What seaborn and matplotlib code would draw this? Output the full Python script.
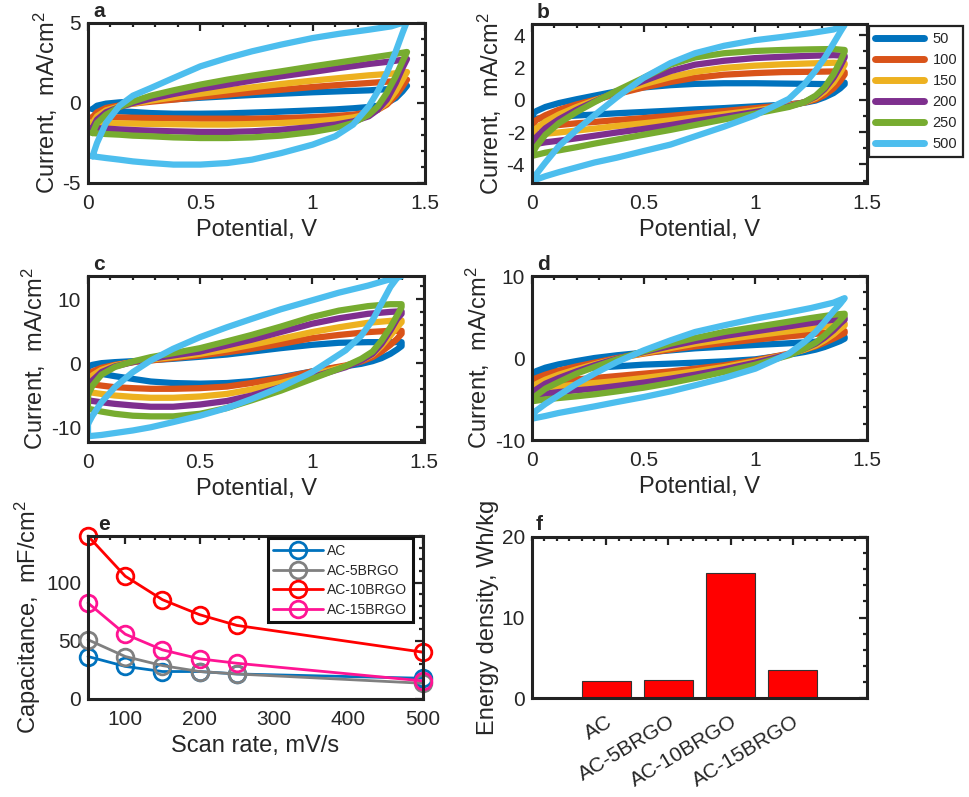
import matplotlib
matplotlib.use("Agg")
import matplotlib.pyplot as plt
import pandas as pd
import seaborn as sns
from matplotlib.lines import Line2D
from matplotlib.ticker import MultipleLocator, FuncFormatter

# scan rates (mV/s) and matlab colours
rates = [50, 100, 150, 200, 250, 500]
rate_colors = ["#0072BD", "#D95319", "#EDB120", "#7E2F8E", "#77AC30", "#4DBEEE"]

# panel a: forward / reverse sweep potentials (V) and currents (mA/cm2)
a_e_fwd = [0.02, 0.04, 0.08, 0.14, 0.2, 0.28, 0.38, 0.5, 0.62, 0.73, 0.86, 1.0, 1.12, 1.25, 1.35, 1.42]
a_e_rev = [1.42, 1.4, 1.37, 1.33, 1.29, 1.25, 1.18, 1.1, 1.0, 0.86, 0.73, 0.62, 0.5, 0.38, 0.28, 0.2, 0.14, 0.08, 0.02]
a_fwd = {
    50: [-0.38, -0.17, -0.04, 0.04, 0.08, 0.15, 0.23, 0.33, 0.42, 0.5, 0.58, 0.67, 0.73, 0.79, 0.88, 1.08],
    100: [-0.88, -0.58, -0.31, -0.15, -0.04, 0.08, 0.21, 0.38, 0.52, 0.67, 0.83, 1.0, 1.13, 1.25, 1.35, 1.46],
    150: [-1.25, -0.83, -0.46, -0.21, -0.04, 0.15, 0.35, 0.58, 0.79, 0.98, 1.19, 1.4, 1.56, 1.73, 1.83, 1.94],
    200: [-1.56, -1.04, -0.58, -0.25, 0.0, 0.27, 0.56, 0.88, 1.15, 1.4, 1.67, 1.94, 2.19, 2.44, 2.6, 2.75],
    250: [-1.88, -1.25, -0.73, -0.25, 0.1, 0.46, 0.79, 1.15, 1.46, 1.71, 1.98, 2.29, 2.54, 2.81, 3.02, 3.19],
    500: [-3.33, -2.5, -1.25, -0.17, 0.46, 0.94, 1.56, 2.29, 2.81, 3.23, 3.65, 4.06, 4.33, 4.58, 4.79, 5.1],
}
a_rev = {
    50: [1.08, 0.73, 0.31, 0.0, -0.17, -0.25, -0.33, -0.4, -0.46, -0.54, -0.6, -0.65, -0.67, -0.67, -0.63, -0.56, -0.52, -0.46, -0.38],
    100: [1.46, 1.04, 0.46, -0.1, -0.42, -0.58, -0.73, -0.81, -0.88, -0.94, -0.98, -0.98, -0.98, -0.96, -0.94, -0.92, -0.9, -0.88, -0.88],
    150: [1.94, 1.46, 0.73, 0.0, -0.42, -0.69, -0.9, -1.04, -1.15, -1.25, -1.31, -1.35, -1.35, -1.33, -1.31, -1.29, -1.27, -1.25, -1.25],
    200: [2.75, 2.19, 1.25, 0.21, -0.42, -0.83, -1.15, -1.35, -1.5, -1.67, -1.77, -1.81, -1.81, -1.77, -1.73, -1.69, -1.65, -1.6, -1.56],
    250: [3.19, 2.6, 1.67, 0.63, -0.21, -0.73, -1.25, -1.56, -1.81, -2.04, -2.15, -2.19, -2.19, -2.15, -2.08, -2.04, -1.98, -1.94, -1.88],
    500: [5.1, 4.38, 3.23, 1.88, 0.73, -0.21, -1.35, -2.08, -2.6, -3.13, -3.54, -3.75, -3.85, -3.85, -3.75, -3.65, -3.54, -3.44, -3.33],
}

# panels b, c, d share one potential grid
e_fwd = [0.0, 0.02, 0.06, 0.12, 0.2, 0.28, 0.38, 0.5, 0.62, 0.73, 0.86, 1.0, 1.12, 1.25, 1.35, 1.4]
e_rev = [1.4, 1.38, 1.35, 1.31, 1.27, 1.22, 1.15, 1.0, 0.86, 0.73, 0.62, 0.5, 0.38, 0.28, 0.2, 0.12, 0.06, 0.0]

b_fwd = {
    50: [-0.89, -0.69, -0.44, -0.2, 0.04, 0.26, 0.53, 0.77, 0.91, 0.99, 1.03, 1.03, 1.01, 0.99, 0.97, 1.07],
    100: [-1.49, -1.25, -0.95, -0.61, -0.28, 0.0, 0.36, 0.77, 1.11, 1.37, 1.56, 1.66, 1.72, 1.74, 1.76, 1.72],
    150: [-2.06, -1.76, -1.35, -0.91, -0.44, -0.04, 0.46, 0.97, 1.41, 1.74, 1.98, 2.12, 2.2, 2.26, 2.3, 2.26],
    200: [-2.67, -2.3, -1.76, -1.21, -0.61, -0.1, 0.53, 1.17, 1.78, 2.18, 2.42, 2.59, 2.67, 2.73, 2.77, 2.73],
    250: [-3.37, -2.87, -2.16, -1.45, -0.75, -0.14, 0.57, 1.37, 2.18, 2.63, 2.89, 3.03, 3.09, 3.13, 3.15, 3.09],
    500: [-4.99, -4.59, -3.88, -2.87, -1.86, -0.95, 0.16, 1.37, 2.28, 2.89, 3.35, 3.7, 3.9, 4.14, 4.36, 4.65],
}
b_rev = {
    50: [0.97, 0.71, 0.42, 0.16, -0.04, -0.18, -0.28, -0.4, -0.51, -0.59, -0.67, -0.75, -0.83, -0.91, -0.97, -1.05, -1.11, -1.19],
    100: [1.58, 1.17, 0.71, 0.3, 0.02, -0.16, -0.3, -0.51, -0.69, -0.85, -0.99, -1.13, -1.25, -1.37, -1.45, -1.56, -1.62, -1.7],
    150: [2.18, 1.68, 1.07, 0.51, 0.12, -0.16, -0.36, -0.65, -0.89, -1.09, -1.27, -1.45, -1.62, -1.78, -1.9, -2.02, -2.1, -2.2],
    200: [2.63, 2.08, 1.37, 0.67, 0.2, -0.14, -0.4, -0.75, -1.05, -1.31, -1.56, -1.8, -2.02, -2.22, -2.38, -2.53, -2.63, -2.77],
    250: [2.99, 2.38, 1.58, 0.77, 0.26, -0.14, -0.44, -0.85, -1.21, -1.56, -1.86, -2.16, -2.46, -2.71, -2.93, -3.13, -3.27, -3.47],
    500: [4.65, 4.2, 3.5, 2.59, 1.82, 0.97, 0.06, -0.95, -1.66, -2.26, -2.77, -3.17, -3.58, -3.88, -4.18, -4.48, -4.73, -5.03],
}

c_fwd = {
    50: [-0.52, -0.26, 0.0, 0.16, 0.31, 0.47, 0.68, 1.0, 1.35, 1.8, 2.34, 2.86, 3.18, 3.28, 3.28, 3.28],
    100: [-1.9, -1.3, -0.73, -0.26, 0.16, 0.42, 0.78, 1.2, 1.7, 2.24, 3.0, 3.9, 4.4, 4.85, 5.05, 5.05],
    150: [-3.0, -1.9, -1.04, -0.36, 0.16, 0.57, 0.94, 1.46, 2.14, 2.86, 3.8, 4.85, 5.6, 6.3, 6.6, 6.67],
    200: [-4.0, -2.7, -1.4, -0.5, 0.16, 0.68, 1.2, 1.8, 2.76, 3.65, 4.85, 6.15, 7.0, 7.7, 8.0, 8.1],
    250: [-4.95, -3.5, -1.8, -0.6, 0.26, 0.94, 1.56, 2.34, 3.4, 4.4, 5.7, 7.2, 8.2, 8.9, 9.2, 9.2],
    500: [-9.5, -8.2, -6.1, -3.75, -1.4, 0.42, 2.24, 4.06, 5.6, 6.9, 8.4, 9.8, 11.0, 12.1, 13.1, 13.6],
}
c_rev = {
    50: [2.66, 2.14, 1.46, 0.78, 0.31, -0.1, -0.47, -1.3, -2.2, -2.8, -3.1, -3.2, -3.1, -2.86, -2.45, -2.03, -1.67, -1.3],
    100: [4.6, 3.8, 2.86, 1.8, 0.94, 0.26, -0.36, -1.3, -2.34, -3.1, -3.65, -3.9, -4.0, -4.0, -3.9, -3.75, -3.5, -3.2],
    150: [6.4, 5.6, 4.3, 2.66, 1.35, 0.42, -0.47, -1.8, -3.1, -4.1, -4.8, -5.2, -5.4, -5.4, -5.26, -5.05, -4.8, -4.5],
    200: [7.7, 6.9, 5.1, 3.0, 1.46, 0.42, -0.63, -2.2, -3.75, -5.05, -5.9, -6.45, -6.8, -6.8, -6.6, -6.35, -6.1, -5.8],
    250: [8.75, 7.45, 5.6, 3.5, 1.8, 0.68, -0.47, -2.45, -4.3, -5.8, -7.0, -7.9, -8.3, -8.3, -8.2, -7.9, -7.55, -7.1],
    500: [13.6, 13.3, 11.9, 9.3, 6.7, 4.3, 2.0, -1.4, -3.75, -5.6, -7.0, -8.2, -9.2, -10.0, -10.5, -10.9, -11.2, -11.4],
}

d_fwd = {
    50: [-1.91, -1.59, -1.18, -0.77, -0.37, 0.0, 0.33, 0.65, 0.93, 1.18, 1.38, 1.59, 1.75, 1.95, 2.15, 2.56],
    100: [-2.72, -2.44, -2.03, -1.54, -1.02, -0.57, 0.0, 0.53, 1.02, 1.42, 1.83, 2.24, 2.56, 2.89, 3.17, 3.29],
    150: [-3.54, -3.17, -2.64, -2.03, -1.38, -0.77, -0.08, 0.61, 1.22, 1.75, 2.24, 2.76, 3.17, 3.58, 3.98, 4.19],
    200: [-4.35, -3.82, -3.13, -2.44, -1.63, -0.89, -0.08, 0.73, 1.46, 2.07, 2.68, 3.25, 3.74, 4.27, 4.67, 4.88],
    250: [-5.16, -4.55, -3.74, -2.93, -1.9, -1.1, -0.16, 0.81, 1.75, 2.44, 3.17, 3.78, 4.3, 4.88, 5.28, 5.4],
    500: [-7.0, -6.4, -5.6, -4.55, -3.13, -1.9, -0.49, 0.93, 2.15, 3.17, 3.98, 4.8, 5.4, 6.1, 6.75, 7.3],
}
d_rev = {
    50: [2.36, 2.07, 1.75, 1.34, 1.02, 0.73, 0.41, -0.16, -0.41, -0.57, -0.69, -0.81, -1.02, -1.18, -1.38, -1.59, -1.79, -2.11],
    100: [3.05, 2.76, 2.36, 1.87, 1.42, 1.02, 0.53, -0.28, -0.89, -1.3, -1.63, -1.91, -2.2, -2.44, -2.6, -2.8, -2.93, -3.13],
    150: [3.98, 3.58, 2.89, 2.15, 1.54, 1.02, 0.45, -0.41, -1.1, -1.63, -2.03, -2.44, -2.8, -3.05, -3.25, -3.46, -3.62, -3.82],
    200: [4.67, 4.19, 3.37, 2.48, 1.75, 1.14, 0.45, -0.57, -1.38, -2.03, -2.52, -3.0, -3.41, -3.74, -3.94, -4.15, -4.35, -4.63],
    250: [5.2, 4.6, 3.78, 2.76, 1.87, 1.14, 0.33, -0.81, -1.7, -2.44, -3.05, -3.62, -4.07, -4.43, -4.67, -4.88, -5.04, -5.28],
    500: [7.3, 6.6, 5.7, 4.4, 3.17, 1.95, 0.53, -1.3, -2.44, -3.33, -4.07, -4.76, -5.37, -5.9, -6.3, -6.7, -7.07, -7.4],
}

# panel e: capacitance (mF/cm2) vs scan rate
scan_rates = [50, 100, 150, 200, 250, 500]
cap_ac = [36.5, 28, 23.6, 23.6, 21.5, 17.8]
cap_5brgo = [50.9, 36.5, 28.7, 23.6, 21.5, 13.5]
cap_10brgo = [140, 105.5, 85.3, 72.4, 63.2, 40.2]
cap_15brgo = [82.5, 55.7, 42.2, 34.5, 30.7, 15.5]
cap_colors = ["#0072BD", "#808080", "#FF0000", "#FF1493"]

# panel f: energy density (Wh/kg)
devices = ["AC", "AC-5BRGO", "AC-10BRGO", "AC-15BRGO"]
energy = [2.05, 2.25, 15.5, 3.45]


def cv_frame(ef, er, fwd, rev):
    rows = []
    for r in rates:
        e = list(ef) + list(er) + [ef[0]]
        cur = list(fwd[r]) + list(rev[r]) + [fwd[r][0]]
        for k, (x, y) in enumerate(zip(e, cur)):
            rows.append((r, k, x, y))
    return pd.DataFrame(rows, columns=["rate", "k", "E", "I"])


sns.set_style("white")
plt.rcParams["font.family"] = ["Liberation Sans", "DejaVu Sans"]
plt.rcParams["mathtext.fontset"] = "custom"
plt.rcParams["mathtext.rm"] = "Liberation Sans"
plt.rcParams["mathtext.default"] = "regular"
plt.rcParams["axes.unicode_minus"] = False

W, H = 969, 797
fig = plt.figure(figsize=(W / 100, H / 100), dpi=100)


def add_ax(l, t, r, b):
    return fig.add_axes([l / W, 1 - b / H, (r - l) / W, (b - t) / H])


fmt = FuncFormatter(lambda v, p: "%g" % v)
txt = "#262626"


def style(ax, ymaj, ymin, xmaj=None, xmin=None):
    if xmaj is not None:
        ax.xaxis.set_major_locator(MultipleLocator(xmaj))
        ax.xaxis.set_major_formatter(fmt)
    ax.xaxis.set_minor_locator(MultipleLocator(xmin))
    ax.yaxis.set_major_locator(MultipleLocator(ymaj))
    ax.yaxis.set_minor_locator(MultipleLocator(ymin))
    ax.yaxis.set_major_formatter(fmt)
    ax.tick_params(which="both", direction="in", top=True, right=True,
                   width=1.6, color="#222222", labelsize=15, labelcolor=txt)
    ax.tick_params(which="major", length=6)
    ax.tick_params(which="minor", length=3)
    ax.tick_params(axis="x", pad=8)
    ax.tick_params(axis="y", pad=5)
    for s in ax.spines.values():
        s.set_linewidth(2.2)
        s.set_color("#222222")


def letter(ax, s, dx=0.015, dy=1.01):
    ax.text(dx, dy, s, transform=ax.transAxes, fontsize=15,
            fontweight="bold", va="bottom", ha="left")


panels = [
    ("a", (88, 23, 425, 183), a_e_fwd, a_e_rev, a_fwd, a_rev, (-5, 5), 5, 1),
    ("b", (532, 24, 867, 183), e_fwd, e_rev, b_fwd, b_rev, (-5.15, 4.7), 2, 1),
    ("c", (88, 276, 424, 442), e_fwd, e_rev, c_fwd, c_rev, (-12.3, 13.6), 10, 2),
    ("d", (532, 276, 867, 440), e_fwd, e_rev, d_fwd, d_rev, (-10, 10), 10, 2),
]
pal = dict(zip(rates, rate_colors))

for name, box, ef, er, fwd, rev, ylim, ymaj, ymin in panels:
    ax = add_ax(*box)
    df = cv_frame(ef, er, fwd, rev)
    sns.lineplot(data=df, x="E", y="I", hue="rate", palette=pal, sort=False,
                 estimator=None, lw=4.5, legend=False, ax=ax,
                 solid_joinstyle="round", solid_capstyle="round")
    ax.set_xlim(0, 1.5)
    ax.set_ylim(*ylim)
    style(ax, ymaj, ymin, 0.5, 0.1)
    ax.set_xlabel("Potential, V", fontsize=17, color=txt, labelpad=4)
    ax.set_ylabel("Current,  mA/cm$^2$", fontsize=17, color=txt, labelpad=2)
    letter(ax, name)
    if name == "b":
        handles = [Line2D([], [], color=c, lw=5) for c in rate_colors]
        leg = ax.legend(handles, [str(r) for r in rates], loc="upper left",
                        bbox_to_anchor=(869 / W, 1 - 26 / H),
                        bbox_transform=fig.transFigure, borderaxespad=0,
                        fontsize=10.5, handlelength=3.4, handletextpad=0.55,
                        labelspacing=0.48, borderpad=0.4, fancybox=False,
                        framealpha=1)
        leg.get_frame().set_edgecolor("#222222")
        leg.get_frame().set_linewidth(1.6)

# panel e
ax_e = add_ax(88, 536, 423, 699)
cap_series = [("AC", cap_ac), ("AC-5BRGO", cap_5brgo),
              ("AC-10BRGO", cap_10brgo), ("AC-15BRGO", cap_15brgo)]
for (lab, vals), col in zip(cap_series, cap_colors):
    sns.lineplot(x=scan_rates, y=vals, color=col, lw=2, marker="o",
                 markersize=12, markerfacecolor="none", markeredgewidth=2,
                 markeredgecolor=col, ax=ax_e, clip_on=False)
ax_e.set_xlim(50, 500)
ax_e.set_ylim(0, 140)
style(ax_e, 50, 10, 100, 20)
ax_e.set_xlabel("Scan rate, mV/s", fontsize=17, color=txt, labelpad=4)
ax_e.set_ylabel("Capacitance,  mF/cm$^2$", fontsize=17, color=txt, labelpad=2)
letter(ax_e, "e", 0.03, 1.01)
handles = [Line2D([], [], color=c, lw=2, marker="o", markersize=12,
                  markerfacecolor="none", markeredgewidth=2) for c in cap_colors]
leg = ax_e.legend(handles, [s[0] for s in cap_series], loc="upper right",
                  bbox_to_anchor=(0.97, 0.985), borderaxespad=0, fontsize=10,
                  handlelength=3.6, handletextpad=0.3, labelspacing=0.4,
                  borderpad=0.4, fancybox=False, framealpha=1)
leg.get_frame().set_edgecolor("#111111")
leg.get_frame().set_linewidth(2.2)

# panel f
ax_f = add_ax(532, 537, 867, 698)
sns.barplot(x=devices, y=energy, color="#FF0000", saturation=1, width=0.8,
            edgecolor="#333333", linewidth=0.8, ax=ax_f)
ax_f.set_xlim(-1.2, 4.2)
ax_f.set_ylim(0, 20)
style(ax_f, 10, 2, None, 0.2)
ax_f.tick_params(axis="x", pad=10)
plt.setp(ax_f.get_xticklabels(), rotation=31, ha="right",
         rotation_mode="anchor")
ax_f.set_xlabel("")
ax_f.set_ylabel("Energy density, Wh/kg", fontsize=17, color=txt, labelpad=2)
letter(ax_f, "f", 0.01, 1.02)

fig.savefig("out.png", dpi=100)
